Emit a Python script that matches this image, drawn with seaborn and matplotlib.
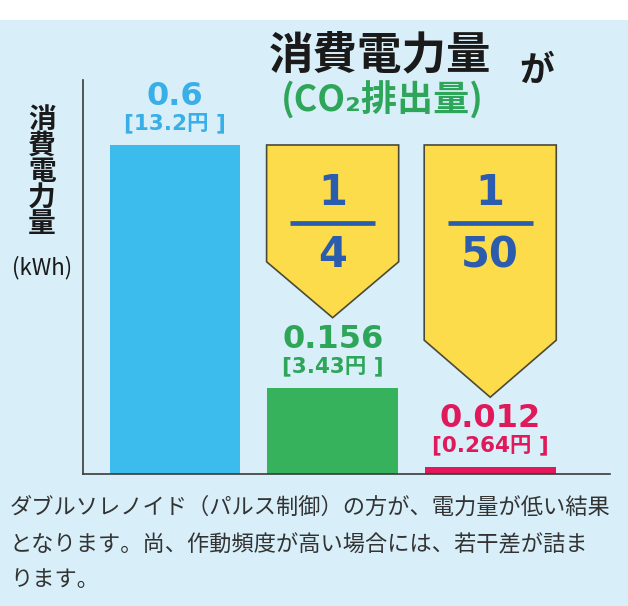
import matplotlib
matplotlib.use("Agg")
import matplotlib.pyplot as plt
from matplotlib.patches import Polygon, Rectangle
import pandas as pd
import seaborn as sns

# data
modes = ["シングル", "ダブル", "ダブル（パルス制御）"]
kwh = [0.6, 0.156, 0.012]
cost_labels = ["[13.2円 ]", "[3.43円 ]", "[0.264円 ]"]
ratio_denoms = [None, "4", "50"]
bar_colors = ["#3cbcec", "#35b25b", "#e3175a"]
label_colors = ["#3aaee6", "#2ea65a", "#e0195a"]
# arrow shapes: (rect bottom, tip) in kWh units
arrow_levels = [None, (0.387, 0.285), (0.244, 0.140)]

BG = "#d8eff9"
YELLOW = "#fddc4b"
NAVY = "#2b5cad"
NUM_FONT = ["DejaVu Sans", "Noto Sans CJK JP"]

sns.set_theme(style="white")
plt.rcParams["font.family"] = ["Noto Sans CJK JP", "DejaVu Sans"]

fig = plt.figure(figsize=(6.28, 6.06), dpi=100, facecolor=BG)
ax = fig.add_axes([83 / 628, 1 - 474 / 606, 527 / 628, 394 / 606])
ax.set_facecolor(BG)

df = pd.DataFrame({"mode": modes, "kwh": kwh})
sns.barplot(data=df, x="mode", y="kwh", hue="mode", palette=bar_colors,
            width=0.83, saturation=1, legend=False, linewidth=0, ax=ax)

ax.set_xlim(-0.584, 2.76)
ax.set_ylim(0, 0.7185)
ax.set_xticks([])
ax.set_yticks([])
ax.set_xlabel("")
ax.set_ylabel("")
for side in ["top", "right"]:
    ax.spines[side].set_visible(False)
for side in ["left", "bottom"]:
    ax.spines[side].set_color("#3a3a3a")
    ax.spines[side].set_linewidth(1.2)

# value labels above each bar
for i, (v, c, col) in enumerate(zip(kwh, cost_labels, label_colors)):
    ax.annotate(f"{v:g}", (i, v), xytext=(0, 35), textcoords="offset points",
                ha="center", va="center", fontsize=23, fontweight="bold",
                color=col, family=NUM_FONT)
    ax.annotate(c, (i, v), xytext=(0, 16), textcoords="offset points",
                ha="center", va="center", fontsize=15.5, fontweight="bold",
                color=col, family=NUM_FONT)

# yellow ratio arrows
half = 0.419
for i, (den, lev) in enumerate(zip(ratio_denoms, arrow_levels)):
    if den is None:
        continue
    rect_bottom, tip = lev
    top = kwh[0]
    pts = [(i - half, top), (i + half, top), (i + half, rect_bottom),
           (i, tip), (i - half, rect_bottom)]
    ax.add_patch(Polygon(pts, closed=True, facecolor=YELLOW,
                         edgecolor="#4a4a3a", linewidth=1.2, zorder=3))
    ax.text(i, 0.512, "1", ha="center", va="center", fontsize=30,
            fontweight="bold", color=NAVY, family=NUM_FONT, zorder=4)
    ax.plot([i - 0.27, i + 0.27], [0.4578, 0.4578], color=NAVY, lw=3.4,
            solid_capstyle="butt", zorder=4)
    ax.text(i, 0.399, den, ha="center", va="center", fontsize=30,
            fontweight="bold", color=NAVY, family=NUM_FONT, zorder=4)

# title
fig.text(380 / 628, 1 - 55 / 606, "消費電力量", ha="center", va="center",
         fontsize=32, fontweight="bold", color="#1a1a1a")
fig.text(537 / 628, 1 - 70 / 606, "が", ha="center", va="center",
         fontsize=25, fontweight="bold", color="#1a1a1a")
fig.text(382 / 628, 1 - 100 / 606, "(CO₂排出量)", ha="center", va="center",
         fontsize=26, fontweight="bold", color="#2ea65a")

# y axis label
fig.text(42 / 628, 1 - 172 / 606, "消\n費\n電\n力\n量", ha="center",
         va="center", fontsize=20, fontweight="bold", color="#1a1a1a",
         linespacing=0.92)
fig.text(42 / 628, 1 - 268 / 606, "(kWh)", ha="center", va="center",
         fontsize=16, color="#1a1a1a")

# top white band
fig.patches.append(Rectangle((0, 1 - 20 / 606), 1, 20 / 606,
                             transform=fig.transFigure, facecolor="white",
                             edgecolor="none", zorder=0))

# note
notes = ["ダブルソレノイド（パルス制御）の方が、電力量が低い結果",
         "となります。尚、作動頻度が高い場合には、若干差が詰ま",
         "ります。"]
for line, py in zip(notes, [507, 545, 580]):
    fig.text(10 / 628, 1 - py / 606, line, ha="left", va="center",
             fontsize=16, color="#333333")

fig.savefig("out.png", dpi=100, facecolor=BG)
